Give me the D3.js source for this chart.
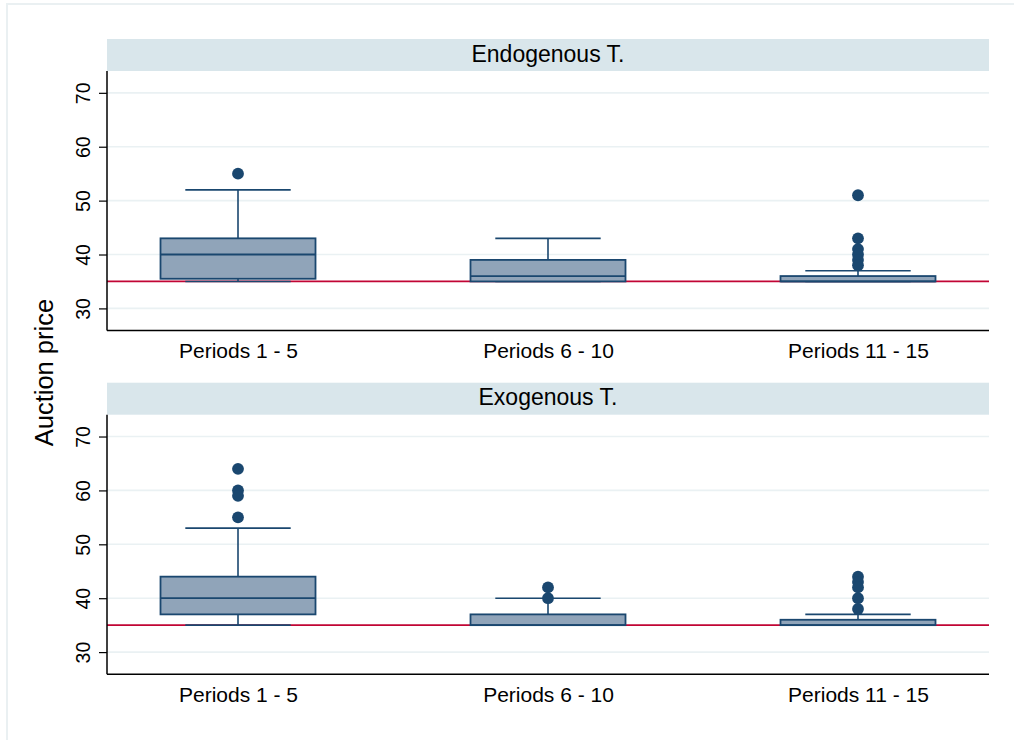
<!DOCTYPE html>
<html>
<head>
<meta charset="utf-8">
<script src="https://cdn.jsdelivr.net/npm/d3@7"></script>
<style>
  html, body { margin: 0; padding: 0; background: #ffffff; }
  svg { display: block; font-family: "Liberation Sans", Arial, sans-serif; }
</style>
</head>
<body>
<svg id="chart" width="1014" height="740"></svg>
<script>
// ---- data ----
const periods = ["Periods 1 - 5", "Periods 6 - 10", "Periods 11 - 15"];
const panelTitles = ["Endogenous T.", "Exogenous T."];
const yTicks = [30, 40, 50, 60, 70];
const refValue = 35;
const yLabel = "Auction price";

// Endogenous T.
const endoLow  = [35, 35, 35];
const endoQ1   = [35.5, 35, 35];
const endoMed  = [40, 36, 35];
const endoQ3   = [43, 39, 36];
const endoHigh = [52, 43, 37];
const endoOut  = [[55], [], [51, 43, 41, 40, 39, 38]];

// Exogenous T.
const exoLow  = [35, 35, 35];
const exoQ1   = [37, 35, 35];
const exoMed  = [40, 35, 35];
const exoQ3   = [44, 37, 36];
const exoHigh = [53, 40, 37];
const exoOut  = [[64, 60, 59, 55], [42, 40], [44, 43, 42, 40, 38]];

function buildRows(low, q1, med, q3, high, out) {
  return periods.map((p, i) => ({ period: p, low: low[i], q1: q1[i], med: med[i], q3: q3[i], high: high[i], out: out[i] }));
}
const panelData = [
  buildRows(endoLow, endoQ1, endoMed, endoQ3, endoHigh, endoOut),
  buildRows(exoLow, exoQ1, exoMed, exoQ3, exoHigh, exoOut)
];

// ---- layout ----
const svg = d3.select("#chart");
const W = 1014, H = 740;
const plotLeft = 107, plotRight = 989;
const stripH = 32, plotH = 259.5;
const panelTops = [39, 382.7];

const navy = "#1a476f";
const boxFill = "#90a4b9";
const gridCol = "#eaf1f3";
const stripCol = "#d9e6eb";
const refCol = "#c10534";

// outer frame
svg.append("rect").attr("x", 7).attr("y", 4).attr("width", W + 20).attr("height", H + 20)
  .attr("fill", "#ffffff").attr("stroke", "#eaf0f2").attr("stroke-width", 2);

const x = d3.scalePoint().domain(periods).range([plotLeft, plotRight]).padding(0.4226);
const step = x.step();
const boxW = step * 0.5;
const capW = step * 0.34;

panelData.forEach((rows, pi) => {
  const top = panelTops[pi];
  const pTop = top + stripH, pBot = pTop + plotH;
  const y = d3.scaleLinear().domain([25.9, 74.05]).range([pBot, pTop]);
  const g = svg.append("g");

  // strip
  g.append("rect").attr("x", plotLeft).attr("y", top).attr("width", plotRight - plotLeft).attr("height", stripH)
    .attr("fill", stripCol);
  g.append("text").attr("x", (plotLeft + plotRight) / 2).attr("y", top + 22.7)
    .attr("text-anchor", "middle").attr("font-size", 23).attr("fill", "#000").text(panelTitles[pi]);

  // gridlines
  g.selectAll("line.grid").data(yTicks).join("line").attr("class", "grid")
    .attr("x1", plotLeft).attr("x2", plotRight)
    .attr("y1", d => y(d)).attr("y2", d => y(d))
    .attr("stroke", gridCol).attr("stroke-width", 1.6);

  // reference line
  g.append("line").attr("x1", plotLeft).attr("x2", plotRight)
    .attr("y1", y(refValue)).attr("y2", y(refValue))
    .attr("stroke", refCol).attr("stroke-width", 1.8);

  // y axis
  const yAxis = d3.axisLeft(y).tickValues(yTicks).tickSize(8).tickPadding(9).tickSizeOuter(0);
  const ax = g.append("g").attr("transform", `translate(${plotLeft},0)`).call(yAxis);
  ax.select(".domain").attr("stroke", "#000").attr("stroke-width", 1.5)
    .attr("d", `M0,${pTop}V${pBot}`);
  ax.selectAll(".tick line").attr("stroke", "#000").attr("stroke-width", 1.2);
  ax.selectAll(".tick text")
    .attr("font-size", 19.5).attr("fill", "#000")
    .attr("font-family", "'Liberation Sans', Arial, sans-serif")
    .attr("x", null).attr("dy", null)
    .attr("text-anchor", "middle")
    .attr("transform", "translate(-17,0) rotate(-90)");

  // x axis
  const xAxis = d3.axisBottom(x).tickSize(0).tickPadding(0);
  const xa = g.append("g").attr("transform", `translate(0,${pBot})`).call(xAxis);
  xa.select(".domain").attr("stroke", "#000").attr("stroke-width", 1.5)
    .attr("d", `M${plotLeft},0H${plotRight}`);
  xa.selectAll(".tick text").attr("font-size", 21).attr("fill", "#000")
    .attr("font-family", "'Liberation Sans', Arial, sans-serif")
    .attr("dy", null).attr("y", 27.5);

  // boxes
  const b = g.selectAll("g.box").data(rows).join("g").attr("class", "box");
  // whiskers
  b.append("line").attr("x1", d => x(d.period)).attr("x2", d => x(d.period))
    .attr("y1", d => y(d.q3)).attr("y2", d => y(d.high)).attr("stroke", navy).attr("stroke-width", 1.6);
  b.append("line").attr("x1", d => x(d.period)).attr("x2", d => x(d.period))
    .attr("y1", d => y(d.q1)).attr("y2", d => y(d.low)).attr("stroke", navy).attr("stroke-width", 1.6);
  b.append("line").attr("x1", d => x(d.period) - capW / 2).attr("x2", d => x(d.period) + capW / 2)
    .attr("y1", d => y(d.high)).attr("y2", d => y(d.high)).attr("stroke", navy).attr("stroke-width", 1.6);
  b.append("line").attr("x1", d => x(d.period) - capW / 2).attr("x2", d => x(d.period) + capW / 2)
    .attr("y1", d => y(d.low)).attr("y2", d => y(d.low)).attr("stroke", navy).attr("stroke-width", 1.6);
  // box
  b.append("rect").attr("x", d => x(d.period) - boxW / 2).attr("width", boxW)
    .attr("y", d => y(d.q3)).attr("height", d => Math.max(0, y(d.q1) - y(d.q3)))
    .attr("fill", boxFill).attr("stroke", navy).attr("stroke-width", 1.8);
  // median
  b.append("line").attr("x1", d => x(d.period) - boxW / 2).attr("x2", d => x(d.period) + boxW / 2)
    .attr("y1", d => y(d.med)).attr("y2", d => y(d.med)).attr("stroke", navy).attr("stroke-width", 1.8);
  // outliers
  b.selectAll("circle").data(d => d.out.map(v => ({ period: d.period, v }))).join("circle")
    .attr("cx", d => x(d.period)).attr("cy", d => y(d.v)).attr("r", 5.9).attr("fill", navy);
});

// y label
svg.append("text").attr("transform", `translate(53,${(panelTops[0] + stripH + panelTops[1] + stripH + plotH) / 2}) rotate(-90)`)
  .attr("text-anchor", "middle").attr("font-size", 25.5).attr("fill", "#000").text(yLabel);
</script>
</body>
</html>
